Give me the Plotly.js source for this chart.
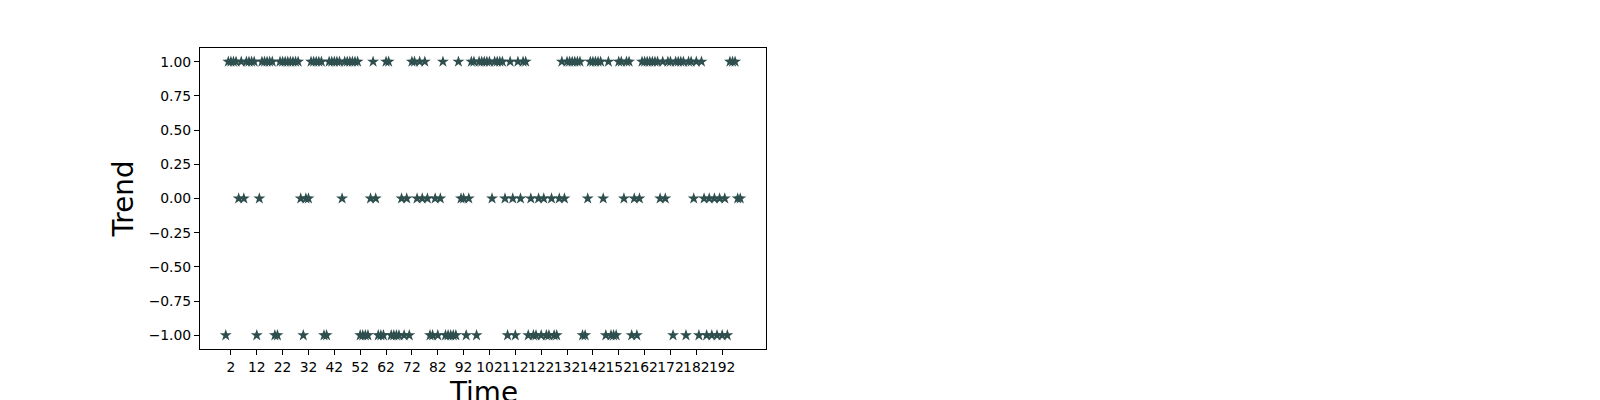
<!DOCTYPE html>
<html>
<head>
<meta charset="utf-8">
<script src="https://cdn.plot.ly/plotly-3.0.1.min.js"></script>
<style>
html,body{margin:0;padding:0;background:#fff;}
#chart{width:1600px;height:400px;}
</style>
</head>
<body>
<div id="chart"></div>
<script>
// Time steps (x)
const time = [
0,1,2,3,4,5,6,7,8,9,10,11,12,13,14,15,16,17,18,19,
20,21,22,23,24,25,26,27,28,29,30,31,32,33,34,35,36,37,38,39,
40,41,42,43,44,45,46,47,48,49,50,51,52,53,54,55,56,57,58,59,
60,61,62,63,64,65,66,67,68,69,70,71,72,73,74,75,76,77,78,79,
80,81,82,83,84,85,86,87,88,89,90,91,92,93,94,95,96,97,98,99,
100,101,102,103,104,105,106,107,108,109,110,111,112,113,114,115,116,117,118,119,
120,121,122,123,124,125,126,127,128,129,130,131,132,133,134,135,136,137,138,139,
140,141,142,143,144,145,146,147,148,149,150,151,152,153,154,155,156,157,158,159,
160,161,162,163,164,165,166,167,168,169,170,171,172,173,174,175,176,177,178,179,
180,181,182,183,184,185,186,187,188,189,190,191,192,193,194,195,196,197,198,199
];
// Trend value at each time step (-1, 0, 1)
const trend = [
-1,1,1,1,1,0,1,0,1,1,1,1,-1,0,1,1,1,1,1,-1,
-1,1,1,1,1,1,1,1,1,0,-1,0,0,1,1,1,1,1,-1,-1,
1,1,1,1,1,0,1,1,1,1,1,1,-1,-1,-1,-1,0,1,0,-1,
-1,-1,1,1,-1,-1,-1,-1,0,-1,0,-1,1,1,0,1,0,1,0,-1,
-1,0,-1,0,1,-1,-1,-1,-1,-1,1,0,0,-1,0,1,1,-1,1,1,
1,1,1,0,1,1,1,1,0,-1,1,0,-1,1,0,1,1,-1,0,-1,
-1,0,-1,0,-1,-1,0,-1,-1,0,1,0,1,1,1,1,1,1,-1,-1,
0,1,1,1,1,1,0,-1,1,-1,-1,-1,1,1,0,1,1,-1,0,-1,
0,1,1,1,1,1,1,1,0,1,0,1,1,-1,1,1,1,1,-1,1,
1,0,1,-1,1,0,-1,0,-1,0,-1,0,-1,0,-1,1,1,1,0,0
];
// Tick labels
const xTickVals = [2,12,22,32,42,52,62,72,82,92,102,112,122,132,142,152,162,172,182,192];
const yTickVals = [-1,-0.75,-0.5,-0.25,0,0.25,0.5,0.75,1];

const trace = {
  x: time,
  y: trend,
  type: 'scatter',
  mode: 'markers',
  marker: {symbol: 'star', size: 9, color: '#2f4f4f', line: {width: 0}},
  hoverinfo: 'x+y'
};

const axisCommon = {
  showline: true, linecolor: '#000', linewidth: 1, mirror: true,
  ticks: 'outside', ticklen: 5, tickwidth: 1, tickcolor: '#000',
  showgrid: false, zeroline: false,
  tickfont: {family: 'DejaVu Sans', size: 13.9, color: '#000'}
};

const layout = {
  width: 1600, height: 400,
  margin: {l: 200, r: 834, t: 48, b: 51, pad: 0},
  paper_bgcolor: '#fff', plot_bgcolor: '#fff',
  showlegend: false,
  font: {family: 'DejaVu Sans', color: '#000'},
  xaxis: Object.assign({}, axisCommon, {
    range: [-9.95, 208.95],
    tickmode: 'array', tickvals: xTickVals,
    ticktext: xTickVals.map(String),
    tickangle: 0,
    automargin: false
  }),
  yaxis: Object.assign({}, axisCommon, {
    range: [-1.1, 1.1],
    tickmode: 'array', tickvals: yTickVals,
    tickformat: '.2f',
    automargin: false,
    title: {text: 'Trend', font: {family: 'DejaVu Sans', size: 27.8, color: '#000'}, standoff: 6}
  }),
  annotations: [{
    text: 'Time', xref: 'paper', yref: 'paper', x: 0.5, y: 0,
    xanchor: 'center', yanchor: 'top', yshift: -25, showarrow: false,
    font: {family: 'DejaVu Sans', size: 27.8, color: '#000'}
  }]
};

Plotly.newPlot('chart', [trace], layout, {displayModeBar: false, staticPlot: true});
</script>
</body>
</html>
